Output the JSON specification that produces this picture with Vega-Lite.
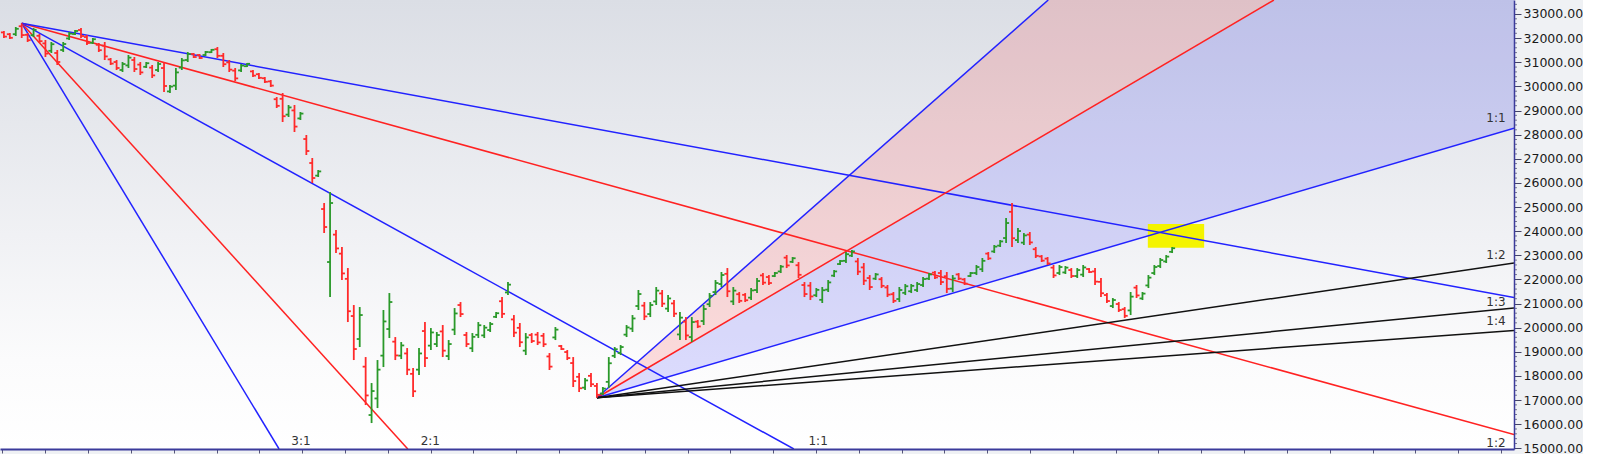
{
  "$schema": "https://vega.github.io/schema/vega-lite/v6.json",
  "width": 1514,
  "height": 449,
  "padding": {"left": 0, "top": 0, "right": 0, "bottom": 0},
  "background": "#eff1f4",
  "view": {"stroke": null, "fill": {"gradient": "linear", "x1": 0, "y1": 0, "x2": 0, "y2": 1, "stops": [{"offset": 0, "color": "#dbdee5"}, {"offset": 0.8, "color": "#fbfbfc"}, {"offset": 1, "color": "#ffffff"}]}},
  "config": {"view": {"stroke": null}, "axis": {"labelOverlap": false}, "axisY": {"labelOverlap": false, "labelFlush": false}},
  "resolve": {"scale": {"color": "independent"}},
  "datasets": {
    "bars": [
      {"t":0,"o":32237,"h":32295,"l":32005,"c":32063},
      {"t":1,"o":32162,"h":32212,"l":31963,"c":32013},
      {"t":2,"o":32163,"h":32461,"l":32088,"c":32386},
      {"t":3,"o":32493,"h":32615,"l":32005,"c":32127},
      {"t":4,"o":32137,"h":32212,"l":31839,"c":31914},
      {"t":5,"o":32121,"h":32419,"l":32046,"c":32344},
      {"t":6,"o":32096,"h":32171,"l":31798,"c":31873},
      {"t":7,"o":31781,"h":31922,"l":31217,"c":31358},
      {"t":8,"o":31474,"h":31839,"l":31383,"c":31748},
      {"t":9,"o":31384,"h":31508,"l":30886,"c":31010},
      {"t":10,"o":31508,"h":31839,"l":31425,"c":31756},
      {"t":11,"o":31988,"h":32254,"l":31922,"c":32188},
      {"t":12,"o":32171,"h":32337,"l":32129,"c":32295},
      {"t":13,"o":32336,"h":32419,"l":32005,"c":32088},
      {"t":14,"o":32046,"h":32129,"l":31715,"c":31798},
      {"t":15,"o":31806,"h":32005,"l":31756,"c":31955},
      {"t":16,"o":31723,"h":31798,"l":31425,"c":31500},
      {"t":17,"o":31690,"h":31839,"l":31093,"c":31242},
      {"t":18,"o":31118,"h":31176,"l":30886,"c":30944},
      {"t":19,"o":31010,"h":31093,"l":30679,"c":30762},
      {"t":20,"o":30679,"h":31010,"l":30596,"c":30927},
      {"t":21,"o":30869,"h":31300,"l":30761,"c":31192},
      {"t":22,"o":31093,"h":31217,"l":30596,"c":30720},
      {"t":23,"o":30902,"h":31010,"l":30471,"c":30579},
      {"t":24,"o":30811,"h":31010,"l":30761,"c":30960},
      {"t":25,"o":30778,"h":30886,"l":30347,"c":30455},
      {"t":26,"o":30679,"h":31010,"l":30596,"c":30927},
      {"t":27,"o":30761,"h":31010,"l":29767,"c":30016},
      {"t":28,"o":29791,"h":30057,"l":29725,"c":29991},
      {"t":29,"o":30032,"h":30761,"l":29850,"c":30579},
      {"t":30,"o":30778,"h":31176,"l":30679,"c":31077},
      {"t":31,"o":31093,"h":31425,"l":31010,"c":31342},
      {"t":32,"o":31342,"h":31383,"l":31176,"c":31217},
      {"t":33,"o":31300,"h":31342,"l":31134,"c":31176},
      {"t":34,"o":31300,"h":31466,"l":31259,"c":31425},
      {"t":35,"o":31416,"h":31549,"l":31383,"c":31516},
      {"t":36,"o":31541,"h":31632,"l":31176,"c":31267},
      {"t":37,"o":31267,"h":31383,"l":30803,"c":30919},
      {"t":38,"o":30994,"h":31093,"l":30596,"c":30695},
      {"t":39,"o":30653,"h":30761,"l":30223,"c":30331},
      {"t":40,"o":30662,"h":30927,"l":30596,"c":30861},
      {"t":41,"o":30836,"h":30969,"l":30803,"c":30936},
      {"t":42,"o":30621,"h":30679,"l":30388,"c":30446},
      {"t":43,"o":30504,"h":30554,"l":30305,"c":30355},
      {"t":44,"o":30338,"h":30388,"l":30140,"c":30190},
      {"t":45,"o":30206,"h":30264,"l":29974,"c":30032},
      {"t":46,"o":29468,"h":29559,"l":29103,"c":29194},
      {"t":47,"o":29485,"h":29725,"l":28523,"c":28763},
      {"t":48,"o":28830,"h":29228,"l":28730,"c":29128},
      {"t":49,"o":29004,"h":29228,"l":28109,"c":28333},
      {"t":50,"o":28672,"h":28938,"l":28606,"c":28872},
      {"t":51,"o":27818,"h":27984,"l":27155,"c":27321},
      {"t":52,"o":26824,"h":27031,"l":25995,"c":26202},
      {"t":53,"o":26301,"h":26534,"l":26243,"c":26476},
      {"t":54,"o":24917,"h":25166,"l":23922,"c":24171},
      {"t":55,"o":22720,"h":25622,"l":21269,"c":25166},
      {"t":56,"o":23856,"h":24047,"l":23093,"c":23284},
      {"t":57,"o":23068,"h":23342,"l":21974,"c":22248},
      {"t":58,"o":22023,"h":22471,"l":20233,"c":20681},
      {"t":59,"o":20482,"h":20938,"l":18658,"c":19114},
      {"t":60,"o":19529,"h":20855,"l":19197,"c":20523},
      {"t":61,"o":18384,"h":18782,"l":16793,"c":17191},
      {"t":62,"o":16379,"h":17705,"l":16047,"c":17373},
      {"t":63,"o":17066,"h":18658,"l":16668,"c":18260},
      {"t":64,"o":18841,"h":20731,"l":18368,"c":20258},
      {"t":65,"o":19943,"h":21435,"l":19570,"c":21062},
      {"t":66,"o":19420,"h":19611,"l":18658,"c":18849},
      {"t":67,"o":18840,"h":19404,"l":18699,"c":19263},
      {"t":68,"o":18931,"h":19155,"l":18036,"c":18260},
      {"t":69,"o":18086,"h":18326,"l":17124,"c":17364},
      {"t":70,"o":18260,"h":19155,"l":18036,"c":18931},
      {"t":71,"o":19860,"h":20233,"l":18368,"c":18741},
      {"t":72,"o":19255,"h":19984,"l":19073,"c":19802},
      {"t":73,"o":19321,"h":19819,"l":19197,"c":19695},
      {"t":74,"o":19844,"h":20109,"l":18782,"c":19047},
      {"t":75,"o":18824,"h":19487,"l":18658,"c":19321},
      {"t":76,"o":19918,"h":20813,"l":19694,"c":20589},
      {"t":77,"o":20938,"h":21062,"l":20440,"c":20564},
      {"t":78,"o":19695,"h":19819,"l":19197,"c":19321},
      {"t":79,"o":19147,"h":19777,"l":18990,"c":19620},
      {"t":80,"o":19703,"h":20233,"l":19570,"c":20100},
      {"t":81,"o":19678,"h":20109,"l":19570,"c":20001},
      {"t":82,"o":19902,"h":20233,"l":19819,"c":20150},
      {"t":83,"o":20449,"h":20648,"l":20399,"c":20598},
      {"t":84,"o":21095,"h":21269,"l":20399,"c":20573},
      {"t":85,"o":21460,"h":21891,"l":21352,"c":21783},
      {"t":86,"o":20341,"h":20523,"l":19611,"c":19793},
      {"t":87,"o":19993,"h":20192,"l":19197,"c":19396},
      {"t":88,"o":19047,"h":19777,"l":18865,"c":19595},
      {"t":89,"o":19694,"h":19777,"l":19363,"c":19446},
      {"t":90,"o":19711,"h":19819,"l":19280,"c":19388},
      {"t":91,"o":19661,"h":19777,"l":19197,"c":19313},
      {"t":92,"o":18807,"h":18948,"l":18244,"c":18385},
      {"t":93,"o":19595,"h":20026,"l":19487,"c":19918},
      {"t":94,"o":19239,"h":19280,"l":19073,"c":19114},
      {"t":95,"o":18990,"h":19073,"l":18658,"c":18741},
      {"t":96,"o":18533,"h":18782,"l":17539,"c":17788},
      {"t":97,"o":17962,"h":18119,"l":17332,"c":17489},
      {"t":98,"o":17514,"h":17912,"l":17415,"c":17813},
      {"t":99,"o":18003,"h":18119,"l":17539,"c":17655},
      {"t":100,"o":17583,"h":17705,"l":17095,"c":17217},
      {"t":101,"o":17273,"h":17539,"l":17207,"c":17473},
      {"t":102,"o":17754,"h":18782,"l":17497,"c":18525},
      {"t":103,"o":18832,"h":19197,"l":18741,"c":19106},
      {"t":104,"o":18948,"h":19280,"l":18865,"c":19197},
      {"t":105,"o":19711,"h":20109,"l":19611,"c":20009},
      {"t":106,"o":19960,"h":20523,"l":19819,"c":20382},
      {"t":107,"o":20897,"h":21560,"l":20731,"c":21394},
      {"t":108,"o":20913,"h":21062,"l":20316,"c":20465},
      {"t":109,"o":20564,"h":21062,"l":20440,"c":20938},
      {"t":110,"o":21087,"h":21684,"l":20938,"c":21535},
      {"t":111,"o":21419,"h":21560,"l":20855,"c":20996},
      {"t":112,"o":20789,"h":21352,"l":20648,"c":21211},
      {"t":113,"o":21004,"h":21145,"l":20440,"c":20581},
      {"t":114,"o":19719,"h":20648,"l":19487,"c":20416},
      {"t":115,"o":20249,"h":20440,"l":19487,"c":19678},
      {"t":116,"o":19611,"h":20440,"l":19404,"c":20233},
      {"t":117,"o":20250,"h":20316,"l":19984,"c":20050},
      {"t":118,"o":20275,"h":20938,"l":20109,"c":20772},
      {"t":119,"o":20971,"h":21435,"l":20855,"c":21319},
      {"t":120,"o":21476,"h":21974,"l":21352,"c":21850},
      {"t":121,"o":21808,"h":22306,"l":21684,"c":22182},
      {"t":122,"o":22231,"h":22471,"l":21269,"c":21509},
      {"t":123,"o":21087,"h":21684,"l":20938,"c":21535},
      {"t":124,"o":21386,"h":21477,"l":21021,"c":21112},
      {"t":125,"o":21360,"h":21435,"l":21062,"c":21137},
      {"t":126,"o":21244,"h":21642,"l":21145,"c":21543},
      {"t":127,"o":21559,"h":22057,"l":21435,"c":21933},
      {"t":128,"o":22165,"h":22264,"l":21767,"c":21866},
      {"t":129,"o":22098,"h":22181,"l":21767,"c":21850},
      {"t":130,"o":22140,"h":22306,"l":22098,"c":22264},
      {"t":131,"o":22330,"h":22596,"l":22264,"c":22530},
      {"t":132,"o":22902,"h":23010,"l":22471,"c":22579},
      {"t":133,"o":22729,"h":22927,"l":22679,"c":22877},
      {"t":134,"o":22587,"h":22720,"l":22057,"c":22190},
      {"t":135,"o":21767,"h":21891,"l":21269,"c":21393},
      {"t":136,"o":21742,"h":21891,"l":21145,"c":21294},
      {"t":137,"o":21344,"h":21642,"l":21269,"c":21567},
      {"t":138,"o":21154,"h":21684,"l":21021,"c":21551},
      {"t":139,"o":21576,"h":21974,"l":21477,"c":21875},
      {"t":140,"o":22156,"h":22389,"l":22098,"c":22331},
      {"t":141,"o":22637,"h":22803,"l":22596,"c":22762},
      {"t":142,"o":22770,"h":23135,"l":22679,"c":23044},
      {"t":143,"o":22985,"h":23218,"l":22927,"c":23160},
      {"t":144,"o":22745,"h":22886,"l":22181,"c":22322},
      {"t":145,"o":22497,"h":22679,"l":21767,"c":21949},
      {"t":146,"o":22057,"h":22181,"l":21560,"c":21684},
      {"t":147,"o":22032,"h":22264,"l":21974,"c":22206},
      {"t":148,"o":22007,"h":22098,"l":21642,"c":21733},
      {"t":149,"o":21667,"h":21767,"l":21269,"c":21369},
      {"t":150,"o":21386,"h":21477,"l":21021,"c":21112},
      {"t":151,"o":21186,"h":21684,"l":21062,"c":21560},
      {"t":152,"o":21443,"h":21808,"l":21352,"c":21717},
      {"t":153,"o":21510,"h":21808,"l":21435,"c":21733},
      {"t":154,"o":21560,"h":21891,"l":21477,"c":21808},
      {"t":155,"o":21767,"h":22098,"l":21684,"c":22015},
      {"t":156,"o":22032,"h":22264,"l":21974,"c":22206},
      {"t":157,"o":22281,"h":22347,"l":22015,"c":22081},
      {"t":158,"o":22265,"h":22389,"l":21767,"c":21891},
      {"t":159,"o":22132,"h":22306,"l":21435,"c":21609},
      {"t":160,"o":21618,"h":22181,"l":21477,"c":22040},
      {"t":161,"o":22206,"h":22264,"l":21974,"c":22032},
      {"t":162,"o":21999,"h":22057,"l":21767,"c":21825},
      {"t":163,"o":22140,"h":22306,"l":22098,"c":22264},
      {"t":164,"o":22264,"h":22596,"l":22181,"c":22513},
      {"t":165,"o":22422,"h":22886,"l":22306,"c":22770},
      {"t":166,"o":23069,"h":23135,"l":22803,"c":22869},
      {"t":167,"o":23159,"h":23425,"l":23093,"c":23359},
      {"t":168,"o":23400,"h":23632,"l":23342,"c":23574},
      {"t":169,"o":23715,"h":24544,"l":23508,"c":24337},
      {"t":170,"o":24801,"h":25166,"l":23342,"c":23707},
      {"t":171,"o":23632,"h":24129,"l":23508,"c":24005},
      {"t":172,"o":23524,"h":23922,"l":23425,"c":23823},
      {"t":173,"o":23856,"h":23964,"l":23425,"c":23533},
      {"t":174,"o":23251,"h":23342,"l":22886,"c":22977},
      {"t":175,"o":22952,"h":23010,"l":22720,"c":22778},
      {"t":176,"o":22861,"h":22927,"l":22596,"c":22662},
      {"t":177,"o":22488,"h":22596,"l":22057,"c":22165},
      {"t":178,"o":22264,"h":22596,"l":22181,"c":22513},
      {"t":179,"o":22289,"h":22554,"l":22223,"c":22488},
      {"t":180,"o":22388,"h":22471,"l":22057,"c":22140},
      {"t":181,"o":22140,"h":22471,"l":22057,"c":22388},
      {"t":182,"o":22198,"h":22596,"l":22098,"c":22496},
      {"t":183,"o":22430,"h":22471,"l":22264,"c":22306},
      {"t":184,"o":22330,"h":22471,"l":21767,"c":21908},
      {"t":185,"o":21899,"h":22057,"l":21269,"c":21427},
      {"t":186,"o":21352,"h":21435,"l":21021,"c":21104},
      {"t":187,"o":20896,"h":21228,"l":20813,"c":21145},
      {"t":188,"o":20979,"h":21062,"l":20648,"c":20731},
      {"t":189,"o":20764,"h":20855,"l":20399,"c":20490},
      {"t":190,"o":20714,"h":21477,"l":20523,"c":21286},
      {"t":191,"o":21659,"h":21767,"l":21228,"c":21336},
      {"t":192,"o":21211,"h":21477,"l":21145,"c":21411},
      {"t":193,"o":21750,"h":22181,"l":21642,"c":22073},
      {"t":194,"o":22264,"h":22596,"l":22181,"c":22513},
      {"t":195,"o":22554,"h":22886,"l":22471,"c":22803},
      {"t":196,"o":22745,"h":23010,"l":22679,"c":22944},
      {"t":197,"o":23143,"h":23342,"l":23093,"c":23292}
    ],
    "fan": [
      {"line":"D3:1","kind":"blue","t":3,"p":32615},{"line":"D3:1","kind":"blue","t":46.40,"p":14971},
      {"line":"D2:1","kind":"red","t":3,"p":32615},{"line":"D2:1","kind":"red","t":68.11,"p":14971},
      {"line":"D1:1","kind":"blue","t":3,"p":32615},{"line":"D1:1","kind":"blue","t":133.21,"p":14971},
      {"line":"D1:2","kind":"red","t":3,"p":32615},{"line":"D1:2","kind":"red","t":254.65,"p":15566},
      {"line":"D1:3","kind":"blue","t":3,"p":32615},{"line":"D1:3","kind":"blue","t":254.65,"p":21249},
      {"line":"U3:1","kind":"blue","t":100,"p":17095},{"line":"U3:1","kind":"blue","t":176.11,"p":33580},
      {"line":"U2:1","kind":"red","t":100,"p":17095},{"line":"U2:1","kind":"red","t":214.16,"p":33580},
      {"line":"U1:1","kind":"blue","t":100,"p":17095},{"line":"U1:1","kind":"blue","t":254.65,"p":28261},
      {"line":"U1:2","kind":"black","t":100,"p":17095},{"line":"U1:2","kind":"black","t":254.65,"p":22678},
      {"line":"U1:3","kind":"black","t":100,"p":17095},{"line":"U1:3","kind":"black","t":254.65,"p":20817},
      {"line":"U1:4","kind":"black","t":100,"p":17095},{"line":"U1:4","kind":"black","t":254.65,"p":19886}
    ],
    "wedge": [
      {"band":"pink","t":100,"lo":17095,"hi":17095},
      {"band":"pink","t":254.65,"lo":39426,"hi":50592},
      {"band":"lavender","t":100,"lo":17095,"hi":17095},
      {"band":"lavender","t":254.65,"lo":28261,"hi":39426}
    ],
    "hl": [{"t1":192.9,"t2":202.4,"p1":23313,"p2":24295}],
    "minor": [
      {"v":15200},{"v":15400},{"v":15600},{"v":15800},{"v":16200},{"v":16400},{"v":16600},{"v":16800},
      {"v":17200},{"v":17400},{"v":17600},{"v":17800},{"v":18200},{"v":18400},{"v":18600},{"v":18800},
      {"v":19200},{"v":19400},{"v":19600},{"v":19800},{"v":20200},{"v":20400},{"v":20600},{"v":20800},
      {"v":21200},{"v":21400},{"v":21600},{"v":21800},{"v":22200},{"v":22400},{"v":22600},{"v":22800},
      {"v":23200},{"v":23400},{"v":23600},{"v":23800},{"v":24200},{"v":24400},{"v":24600},{"v":24800},
      {"v":25200},{"v":25400},{"v":25600},{"v":25800},{"v":26200},{"v":26400},{"v":26600},{"v":26800},
      {"v":27200},{"v":27400},{"v":27600},{"v":27800},{"v":28200},{"v":28400},{"v":28600},{"v":28800},
      {"v":29200},{"v":29400},{"v":29600},{"v":29800},{"v":30200},{"v":30400},{"v":30600},{"v":30800},
      {"v":31200},{"v":31400},{"v":31600},{"v":31800},{"v":32200},{"v":32400},{"v":32600},{"v":32800},
      {"v":33200},{"v":33400}
    ],
    "labels": [
      {"lab":"3:1","t":50.1,"p":15300},
      {"lab":"2:1","t":71.9,"p":15300},
      {"lab":"1:1","t":137.3,"p":15300},
      {"lab":"1:1","t":251.6,"p":28689},
      {"lab":"1:2","t":251.6,"p":23010},
      {"lab":"1:3","t":251.6,"p":21075},
      {"lab":"1:4","t":251.6,"p":20275},
      {"lab":"1:2","t":251.6,"p":15205}
    ]
  },
  "layer": [
    {
      "data": {"name": "wedge"},
      "mark": {"type": "area", "clip": true, "opacity": 0.13},
      "encoding": {
        "x": {"field": "t", "type": "quantitative", "scale": {"domain": [-0.66, 254.65], "nice": false, "zero": false},
          "axis": {"title": null, "labels": false, "grid": false, "ticks": true, "tickSize": 4, "tickColor": "#555577", "domainColor": "#3b3b9b", "domainWidth": 2, "zindex": 1,
            "values": [-0.24,3.37,6.98,10.59,14.2,17.81,21.42,25.03,28.64,32.25,35.86,39.47,43.08,46.69,50.3,53.91,57.52,61.13,64.74,68.35,71.96,75.57,79.18,82.79,86.4,90.01,93.62,97.23,100.84,104.45,108.06,111.67,115.28,118.89,122.5,126.11,129.72,133.33,136.94,140.55,144.16,147.77,151.38,154.99,158.6,162.21,165.82,169.43,173.04,176.65,180.26,183.87,187.48,191.09,194.7,198.31,201.92,205.53,209.14,212.75,216.36,219.97,223.58,227.19,230.8,234.41,238.02,241.63,245.24,248.85,252.46]}},
        "y": {"field": "lo", "type": "quantitative", "scale": {"domain": [14971, 33580], "nice": false, "zero": false},
          "axis": {"title": null, "orient": "right", "grid": false, "domainColor": "#3b3b9b", "domainWidth": 1.5, "tickColor": "#444466", "tickSize": 7, "zindex": 1, "tickCount": 19,
            "labelOverlap": false, "labelFlush": false, "labelFont": "DejaVu Sans", "labelFontSize": 12.5, "labelColor": "#1a1a1a", "labelPadding": 2, "format": ".2f",
            "values": [15000,16000,17000,18000,19000,20000,21000,22000,23000,24000,25000,26000,27000,28000,29000,30000,31000,32000,33000]}},
        "y2": {"field": "hi"},
        "color": {"field": "band", "type": "nominal", "scale": {"domain": ["pink", "lavender"], "range": ["#ff0000", "#0000ff"]}, "legend": null}
      }
    },
    {
      "data": {"name": "minor"},
      "mark": {"type": "tick", "orient": "horizontal", "size": 3, "thickness": 1, "color": "#444466", "xOffset": 1.5, "clip": false},
      "encoding": {
        "x": {"datum": 254.65, "type": "quantitative", "scale": {"domain": [-0.66, 254.65], "nice": false, "zero": false}},
        "y": {"field": "v", "type": "quantitative", "scale": {"domain": [14971, 33580], "nice": false, "zero": false}}
      }
    },
    {
      "data": {"name": "hl"},
      "mark": {"type": "rect", "color": "#f4f400", "clip": true},
      "encoding": {
        "x": {"field": "t1", "type": "quantitative", "scale": {"domain": [-0.66, 254.65], "nice": false, "zero": false}},
        "x2": {"field": "t2"},
        "y": {"field": "p1", "type": "quantitative", "scale": {"domain": [14971, 33580], "nice": false, "zero": false}},
        "y2": {"field": "p2"}
      }
    },
    {
      "data": {"name": "fan"},
      "mark": {"type": "line", "clip": true, "strokeWidth": 1.5},
      "encoding": {
        "x": {"field": "t", "type": "quantitative", "scale": {"domain": [-0.66, 254.65], "nice": false, "zero": false}},
        "y": {"field": "p", "type": "quantitative", "scale": {"domain": [14971, 33580], "nice": false, "zero": false}},
        "detail": {"field": "line", "type": "nominal"},
        "color": {"field": "kind", "type": "nominal", "scale": {"domain": ["blue", "red", "black"], "range": ["#2222ff", "#ff2222", "#111111"]}, "legend": null}
      }
    },
    {
      "data": {"name": "bars"},
      "mark": {"type": "rule", "strokeWidth": 1.8},
      "encoding": {
        "x": {"field": "t", "type": "quantitative", "scale": {"domain": [-0.66, 254.65], "nice": false, "zero": false}},
        "y": {"field": "h", "type": "quantitative", "scale": {"domain": [14971, 33580], "nice": false, "zero": false}},
        "y2": {"field": "l"},
        "color": {"condition": {"test": "datum.c >= datum.o", "value": "#2a992a"}, "value": "#ff2a2a"}
      }
    },
    {
      "data": {"name": "bars"},
      "mark": {"type": "rule", "strokeWidth": 1.8, "xOffset": -3},
      "encoding": {
        "x": {"field": "t", "type": "quantitative", "scale": {"domain": [-0.66, 254.65], "nice": false, "zero": false}},
        "x2": {"field": "t"},
        "y": {"field": "o", "type": "quantitative", "scale": {"domain": [14971, 33580], "nice": false, "zero": false}},
        "color": {"condition": {"test": "datum.c >= datum.o", "value": "#2a992a"}, "value": "#ff2a2a"}
      }
    },
    {
      "data": {"name": "bars"},
      "mark": {"type": "rule", "strokeWidth": 1.8, "x2Offset": 3},
      "encoding": {
        "x": {"field": "t", "type": "quantitative", "scale": {"domain": [-0.66, 254.65], "nice": false, "zero": false}},
        "x2": {"field": "t"},
        "y": {"field": "c", "type": "quantitative", "scale": {"domain": [14971, 33580], "nice": false, "zero": false}},
        "color": {"condition": {"test": "datum.c >= datum.o", "value": "#2a992a"}, "value": "#ff2a2a"}
      }
    },
    {
      "data": {"name": "labels"},
      "mark": {"type": "text", "font": "DejaVu Sans", "fontSize": 12, "color": "#333333", "align": "center", "baseline": "middle"},
      "encoding": {
        "x": {"field": "t", "type": "quantitative", "scale": {"domain": [-0.66, 254.65], "nice": false, "zero": false}},
        "y": {"field": "p", "type": "quantitative", "scale": {"domain": [14971, 33580], "nice": false, "zero": false}},
        "text": {"field": "lab"}
      }
    }
  ]
}
